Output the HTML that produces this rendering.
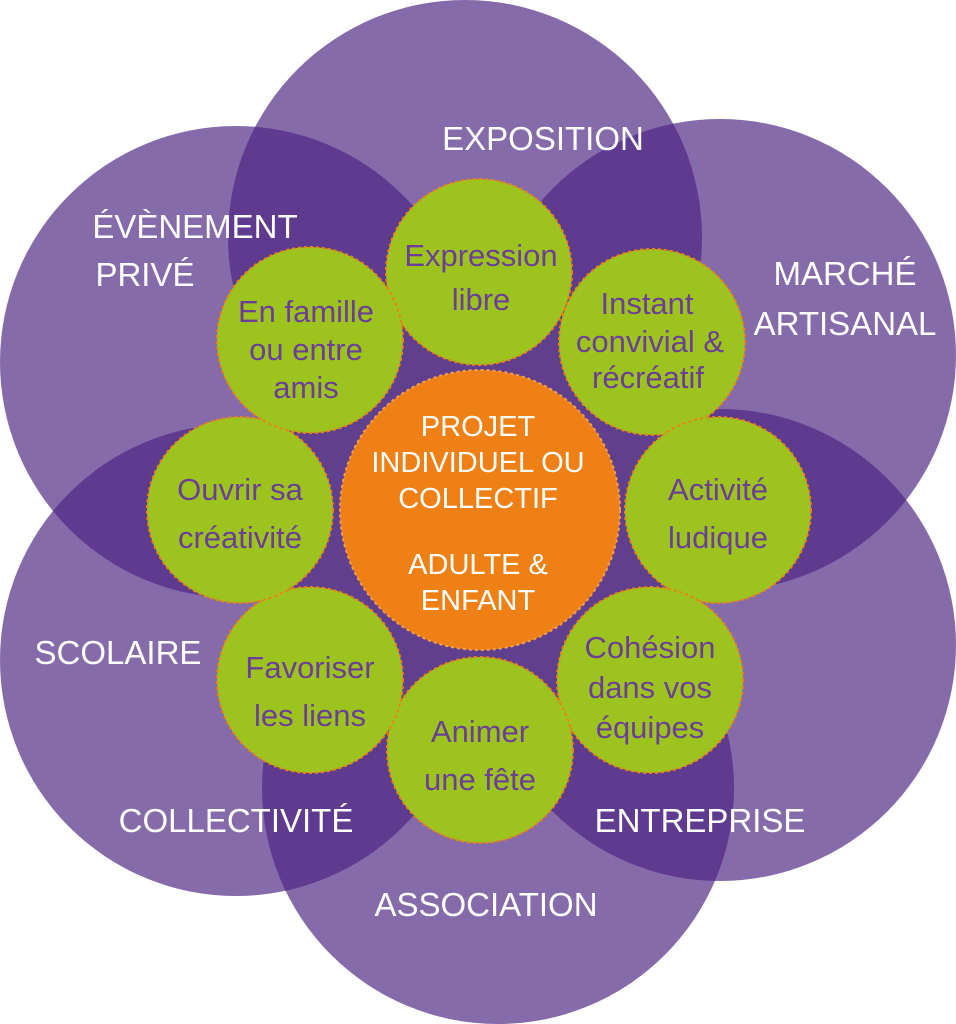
<!DOCTYPE html>
<html><head><meta charset="utf-8"><style>
html,body{margin:0;padding:0;background:#fff}
svg{display:block}
text{font-family:"Liberation Sans",sans-serif}
.w{fill:#fff;font-size:33px;text-anchor:middle}
.g{fill:#6b3f98;font-size:31px;text-anchor:middle}
.o{fill:#fff;font-size:29px;text-anchor:middle}
</style></head><body>
<svg width="956" height="1024" viewBox="0 0 956 1024" xmlns="http://www.w3.org/2000/svg">
<g fill="#4b2582" fill-opacity="0.68">
<circle cx="465" cy="237" r="237"/>
<circle cx="720" cy="355" r="236"/>
<circle cx="720" cy="645" r="236"/>
<circle cx="498" cy="788" r="236"/>
<circle cx="236" cy="660" r="236"/>
<circle cx="236" cy="362" r="236"/>
</g>
<circle cx="480" cy="510" r="200" fill="#603f8f"/>
<text class="w" x="543" y="150">EXPOSITION</text>
<text class="w" x="195" y="238">ÉVÈNEMENT</text>
<text class="w" x="145" y="286">PRIVÉ</text>
<text class="w" x="845" y="285">MARCHÉ</text>
<text class="w" x="845" y="335">ARTISANAL</text>
<text class="w" x="118" y="664">SCOLAIRE</text>
<text class="w" x="236" y="832">COLLECTIVITÉ</text>
<text class="w" x="700" y="832">ENTREPRISE</text>
<text class="w" x="486" y="916">ASSOCIATION</text>
<g fill="#9dc31e" stroke="#ee8016" stroke-width="2" stroke-dasharray="3 3">
<circle cx="479" cy="272" r="93"/>
<circle cx="652" cy="342" r="93"/>
<circle cx="718" cy="510" r="93"/>
<circle cx="650" cy="680" r="93"/>
<circle cx="480" cy="750" r="93"/>
<circle cx="310" cy="680" r="93"/>
<circle cx="240" cy="510" r="93"/>
<circle cx="310" cy="340" r="93"/>
</g>
<circle cx="480" cy="510" r="140" fill="#ee8016" stroke="#f2a050" stroke-width="2" stroke-dasharray="3 3"/>
<text class="g" x="481" y="266">Expression</text><text class="g" x="481" y="310">libre</text>
<text class="g" x="647" y="314">Instant</text><text class="g" x="650" y="352">convivial &amp;</text><text class="g" x="648" y="388">récréatif</text>
<text class="g" x="718" y="500">Activité</text><text class="g" x="718" y="548">ludique</text>
<text class="g" x="650" y="658">Cohésion</text><text class="g" x="650" y="698">dans vos</text><text class="g" x="650" y="738">équipes</text>
<text class="g" x="480" y="742">Animer</text><text class="g" x="480" y="790">une fête</text>
<text class="g" x="310" y="678">Favoriser</text><text class="g" x="310" y="726">les liens</text>
<text class="g" x="240" y="500">Ouvrir sa</text><text class="g" x="240" y="548">créativité</text>
<text class="g" x="306" y="322">En famille</text><text class="g" x="306" y="360">ou entre</text><text class="g" x="306" y="398">amis</text>
<text class="o" x="478" y="436">PROJET</text>
<text class="o" x="478" y="472">INDIVIDUEL OU</text>
<text class="o" x="478" y="508">COLLECTIF</text>
<text class="o" x="478" y="574">ADULTE &amp;</text>
<text class="o" x="478" y="610">ENFANT</text>
</svg>
</body></html>
